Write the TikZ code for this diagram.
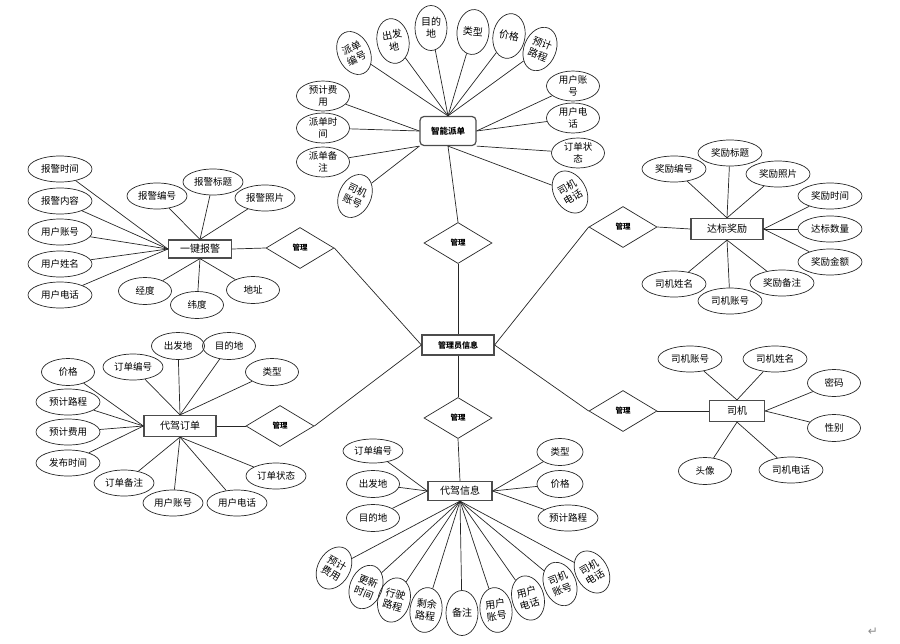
\documentclass[tikz,border=0pt]{standalone}
\usepackage{fontspec}
\setmainfont{Noto Sans CJK SC}
\newfontfamily\dejavu{DejaVu Sans}
\usetikzlibrary{shapes.geometric}
\begin{document}
\begin{tikzpicture}[x=1pt,y=-1pt,
  con/.style={draw=black!85, line width=0.7pt},
  ent/.style={draw=black!70, line width=1.2pt, rectangle, inner sep=0pt, font=\fontsize{10}{12}\selectfont},
  rel/.style={draw=black!85, line width=0.7pt, diamond, inner sep=0pt, minimum width=68pt, minimum height=41pt, font=\bfseries\fontsize{7.5}{9}\selectfont},
  attr/.style={draw=black!85, line width=0.7pt, ellipse, inner sep=0pt, align=center, font=\fontsize{9.5}{11.5}\selectfont},
  aw/.style={attr, minimum width=64pt, minimum height=26pt},
  am/.style={attr, minimum width=60pt, minimum height=26pt},
  as/.style={attr, minimum width=53pt, minimum height=27pt},
  atwo/.style={attr, minimum width=53pt, minimum height=30pt},
  av/.style={attr, minimum width=32pt, minimum height=45pt, font=\fontsize{10}{12}\selectfont},
]
\useasboundingbox (0,0) rectangle (900,643);

% ---------- central ----------
\node[ent, minimum width=72pt, minimum height=20pt, font=\bfseries\fontsize{8}{9}\selectfont] (gl) at (458,345) {管理员信息};
\node[rel] (dA) at (300,248) {管理};
\node[rel] (dB) at (623,227) {管理};
\node[rel] (dC) at (280,426) {管理};
\node[rel] (dD) at (623,411) {管理};
\node[rel] (dT) at (458,243) {管理};
\node[rel] (dE) at (458,418) {管理};

% ---------- 智能派单 ----------
\node[ent, rounded corners=4pt, minimum width=56pt, minimum height=29pt, font=\bfseries\fontsize{8.5}{10}\selectfont] (zn) at (448,131) {智能派单};
\node[av, rotate=25] (t1) at (354,53) {派单\\编号};
\node[av, rotate=10] (t2) at (393,41) {出发\\地};
\node[av] (t3) at (431,28) {目的\\地};
\node[av, rotate=-5] (t4) at (473,32) {类型};
\node[av, rotate=-10] (t5) at (509,36) {价格};
\node[av, rotate=-22] (t6) at (540,49) {预计\\路程};
\node[atwo] (t7) at (573,86) {用户账\\号};
\node[atwo] (t8) at (573,118) {用户电\\话};
\node[atwo] (t9) at (578,153) {订单状\\态};
\node[av, rotate=30] (t10) at (570,192) {司机\\电话};
\node[atwo] (t11) at (323,96) {预计费\\用};
\node[atwo] (t12) at (323,128) {派单时\\间};
\node[atwo] (t13) at (323,162) {派单备\\注};
\node[av, rotate=-25] (t14) at (355,196) {司机\\账号};
\foreach \n in {t1,t2,t3,t4,t5,t6} \draw[con] (\n) -- (zn.north);
\foreach \n in {t7,t8} \draw[con] (\n) -- (zn.east);
\draw[con] (t9) -- (zn.south east);
\draw[con] (t10) -- (zn.south);
\foreach \n in {t11,t12} \draw[con] (\n) -- (zn.west);
\foreach \n in {t13,t14} \draw[con] (\n) -- (zn.south west);

% ---------- 一键报警 ----------
\node[ent, minimum width=63pt, minimum height=18pt] (yj) at (200,249) {一键报警};
\node[aw] (y1) at (60,169) {报警时间};
\node[aw] (y2) at (60,201) {报警内容};
\node[aw] (y3) at (60,232) {用户账号};
\node[aw] (y4) at (60,264) {用户姓名};
\node[aw] (y5) at (60,295) {用户电话};
\node[am] (y6) at (157,196) {报警编号};
\node[am] (y7) at (213,182) {报警标题};
\node[am] (y8) at (265,198) {报警照片};
\node[as] (y9) at (145,291) {经度};
\node[as] (y10) at (197,305) {纬度};
\node[as] (y11) at (253,290) {地址};
\foreach \n in {y1,y2,y3,y4,y5} \draw[con] (\n) -- (yj.west);
\foreach \n in {y6,y7,y8} \draw[con] (\n) -- (yj.north);
\foreach \n in {y9,y10,y11} \draw[con] (\n) -- (yj.south);

% ---------- 达标奖励 ----------
\node[ent, minimum width=72pt, minimum height=21pt] (db) at (727,229) {达标奖励};
\node[aw] (b1) at (674,169) {奖励编号};
\node[aw] (b2) at (730,153) {奖励标题};
\node[aw] (b3) at (778,174) {奖励照片};
\node[aw] (b4) at (830,196) {奖励时间};
\node[aw] (b5) at (830,229) {达标数量};
\node[aw] (b6) at (830,262) {奖励金额};
\node[aw] (b7) at (782,283) {奖励备注};
\node[aw] (b8) at (730,301) {司机账号};
\node[aw] (b9) at (674,284) {司机姓名};
\foreach \n in {b1,b2,b3} \draw[con] (\n) -- (db.north);
\foreach \n in {b4,b5,b6} \draw[con] (\n) -- (db.east);
\foreach \n in {b7,b8,b9} \draw[con] (\n) -- (db.south);

% ---------- 代驾订单 ----------
\node[ent, minimum width=72pt, minimum height=21pt] (dd) at (180,426) {代驾订单};
\node[as] (o1) at (68,372) {价格};
\node[aw] (o2) at (68,402) {预计路程};
\node[aw] (o3) at (68,432) {预计费用};
\node[aw] (o4) at (68,463) {发布时间};
\node[am] (o5) at (133,367) {订单编号};
\node[as] (o6) at (178,346) {出发地};
\node[as] (o7) at (229,346) {目的地};
\node[as] (o8) at (272,372) {类型};
\node[am] (o9) at (124,483) {订单备注};
\node[am] (o10) at (173,503) {用户账号};
\node[am] (o11) at (237,503) {用户电话};
\node[am] (o12) at (276,476) {订单状态};
\foreach \n in {o1,o2,o3,o4} \draw[con] (\n) -- (dd.west);
\foreach \n in {o5,o6,o7,o8} \draw[con] (\n) -- (dd.north);
\foreach \n in {o9,o10,o11,o12} \draw[con] (\n) -- (dd.south);

% ---------- 司机 ----------
\node[ent, minimum width=55pt, minimum height=21pt] (sj) at (737,411) {司机};
\node[aw] (s1) at (690,359) {司机账号};
\node[aw] (s2) at (775,359) {司机姓名};
\node[as] (s3) at (834,383) {密码};
\node[as] (s4) at (834,428) {性别};
\node[as] (s5) at (705,471) {头像};
\node[aw] (s6) at (791,470) {司机电话};
\foreach \n in {s1,s2} \draw[con] (\n) -- (sj.north);
\foreach \n in {s3,s4} \draw[con] (\n) -- (sj.east);
\foreach \n in {s5,s6} \draw[con] (\n) -- (sj.south);

% ---------- 代驾信息 ----------
\node[ent, minimum width=64pt, minimum height=19pt] (dx) at (460,491) {代驾信息};
\node[am, minimum height=24pt] (x1) at (373,451) {订单编号};
\node[as] (x2) at (373,484) {出发地};
\node[as] (x3) at (373,518) {目的地};
\node[as, minimum width=46pt] (x4) at (560,452) {类型};
\node[as, minimum width=46pt] (x5) at (560,484) {价格};
\node[am] (x6) at (568,518) {预计路程};
\node[av, rotate=-30] (x7) at (334,568) {预计\\费用};
\node[av, rotate=-22] (x8) at (366,587) {更新\\时间};
\node[av, rotate=-15] (x9) at (394,600) {行驶\\路程};
\node[av, rotate=-8] (x10) at (426,610) {剩余\\路程};
\node[av] (x11) at (462,613) {备注};
\node[av, rotate=8] (x12) at (496,610) {用户\\账号};
\node[av, rotate=15] (x13) at (528,598) {用户\\电话};
\node[av, rotate=22] (x14) at (560,584) {司机\\账号};
\node[av, rotate=30] (x15) at (592,572) {司机\\电话};
\foreach \n in {x1,x2,x3} \draw[con] (\n) -- (dx.west);
\foreach \n in {x4,x5,x6} \draw[con] (\n) -- (dx.east);
\foreach \n in {x7,x8,x9,x10,x11,x12,x13,x14,x15} \draw[con] (\n) -- (dx.south);

% ---------- relationships ----------
\draw[con] (zn.south) -- (dT.north);
\draw[con] (dT.south) -- (gl.north);
\draw[con] (gl.south) -- (dE.north);
\draw[con] (dE.south) -- (dx.north);
\draw[con] (yj.east) -- (dA.west);
\draw[con] (dA.east) -- (gl.west);
\draw[con] (db.west) -- (dB.east);
\draw[con] (dB.west) -- (gl.east);
\draw[con] (dd.east) -- (dC.west);
\draw[con] (dC.east) -- (gl.west);
\draw[con] (sj.west) -- (dD.east);
\draw[con] (dD.west) -- (gl.east);

\node[text=black!45, font=\dejavu\fontsize{12}{14}\selectfont] (ret) at (873,632) {↵};
\end{tikzpicture}
\end{document}
